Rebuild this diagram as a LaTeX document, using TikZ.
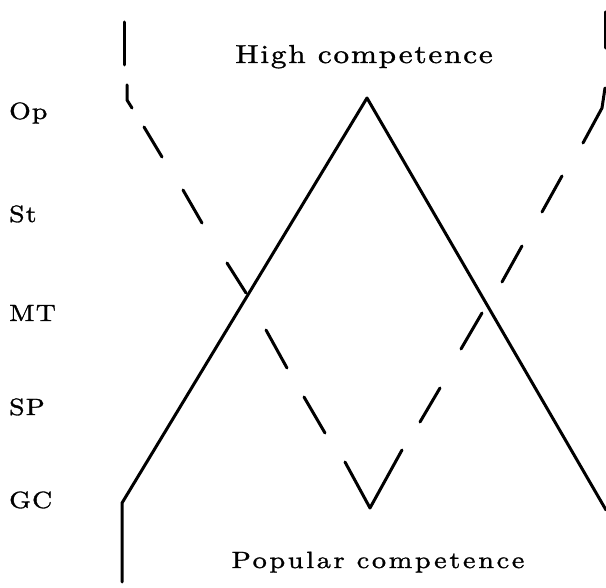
\documentclass[tikz,border=0pt]{standalone}
\usepackage{fontspec}
\newfontfamily\lblfont{lmroman10-regular.otf}[FakeStretch=1.18, LetterSpace=5, FakeBold=1.3]
\newfontfamily\highfont{lmroman10-regular.otf}[FakeStretch=1.2, LetterSpace=7, FakeBold=1.3]
\newfontfamily\popfont{lmroman10-regular.otf}[FakeStretch=1.2, LetterSpace=11.5, FakeBold=1.3]
\begin{document}
\begin{tikzpicture}[x=1pt,y=-1pt,
  solidline/.style={line width=3pt, line cap=round, line join=round},
  dashseg/.style={line width=3pt, line cap=round, line join=round},
  level/.style={anchor=base west, inner sep=0pt, font=\lblfont\fontsize{23.5}{26}\selectfont},
  title/.style={anchor=base, inner sep=0pt}]
\useasboundingbox (0,0) rectangle (606,588);

% level labels
\node[level] (op) at (9,119) {Op};
\node[level] (st) at (9,222) {St};
\node[level] (mt) at (9,321) {MT};
\node[level] (sp) at (9,415) {SP};
\node[level] (gc) at (9,508) {GC};

% titles
\node[title, font=\highfont\fontsize{26}{30}\selectfont] (high) at (364,63) {High competence};
\node[title, font=\popfont\fontsize{23.5}{28}\selectfont] (pop) at (378,568) {Popular competence};

% solid inverted V
\coordinate (sb) at (122,582);
\coordinate (sc) at (122,503);
\coordinate (peak) at (367,98);
\coordinate (se) at (606,510);
\draw[solidline] (sb) -- (sc) -- (peak) -- (se);

% dashed V, left arm
\draw[dashseg] (124,22) coordinate (lt1) -- (124,65) coordinate (lt2);
\draw[dashseg] (127,85) coordinate (lh1) -- (127,100) coordinate (lh2) -- (132,108) coordinate (lh3);
\draw[dashseg] (144,127) coordinate (l1a) -- (162,157) coordinate (l1b);
\draw[dashseg] (183,190) coordinate (l2a) -- (202,223) coordinate (l2b);
\draw[dashseg] (227,263) coordinate (l3a) -- (246,293) coordinate (l3b);
\draw[dashseg] (266,330) coordinate (l4a) -- (287,368) coordinate (l4b);
\draw[dashseg] (304,397) coordinate (l5a) -- (325,433) coordinate (l5b);
% bottom vertex dash
\coordinate (apex) at (370,508);
\draw[dashseg] (345,462) coordinate (v1) -- (apex) -- (402,450) coordinate (v2);
% right arm
\draw[dashseg] (420,422) coordinate (r1a) -- (440,388) coordinate (r1b);
\draw[dashseg] (461,349) coordinate (r2a) -- (482,313) coordinate (r2b);
\draw[dashseg] (502,282) coordinate (r3a) -- (522,246) coordinate (r3b);
\draw[dashseg] (542,212) coordinate (r4a) -- (562,176) coordinate (r4b);
\draw[dashseg] (583,143) coordinate (rh1) -- (602,108) coordinate (rh2) -- (605,88) coordinate (rh3);
\draw[dashseg] (605,12) coordinate (rt1) -- (605,48) coordinate (rt2);
\end{tikzpicture}
\end{document}
